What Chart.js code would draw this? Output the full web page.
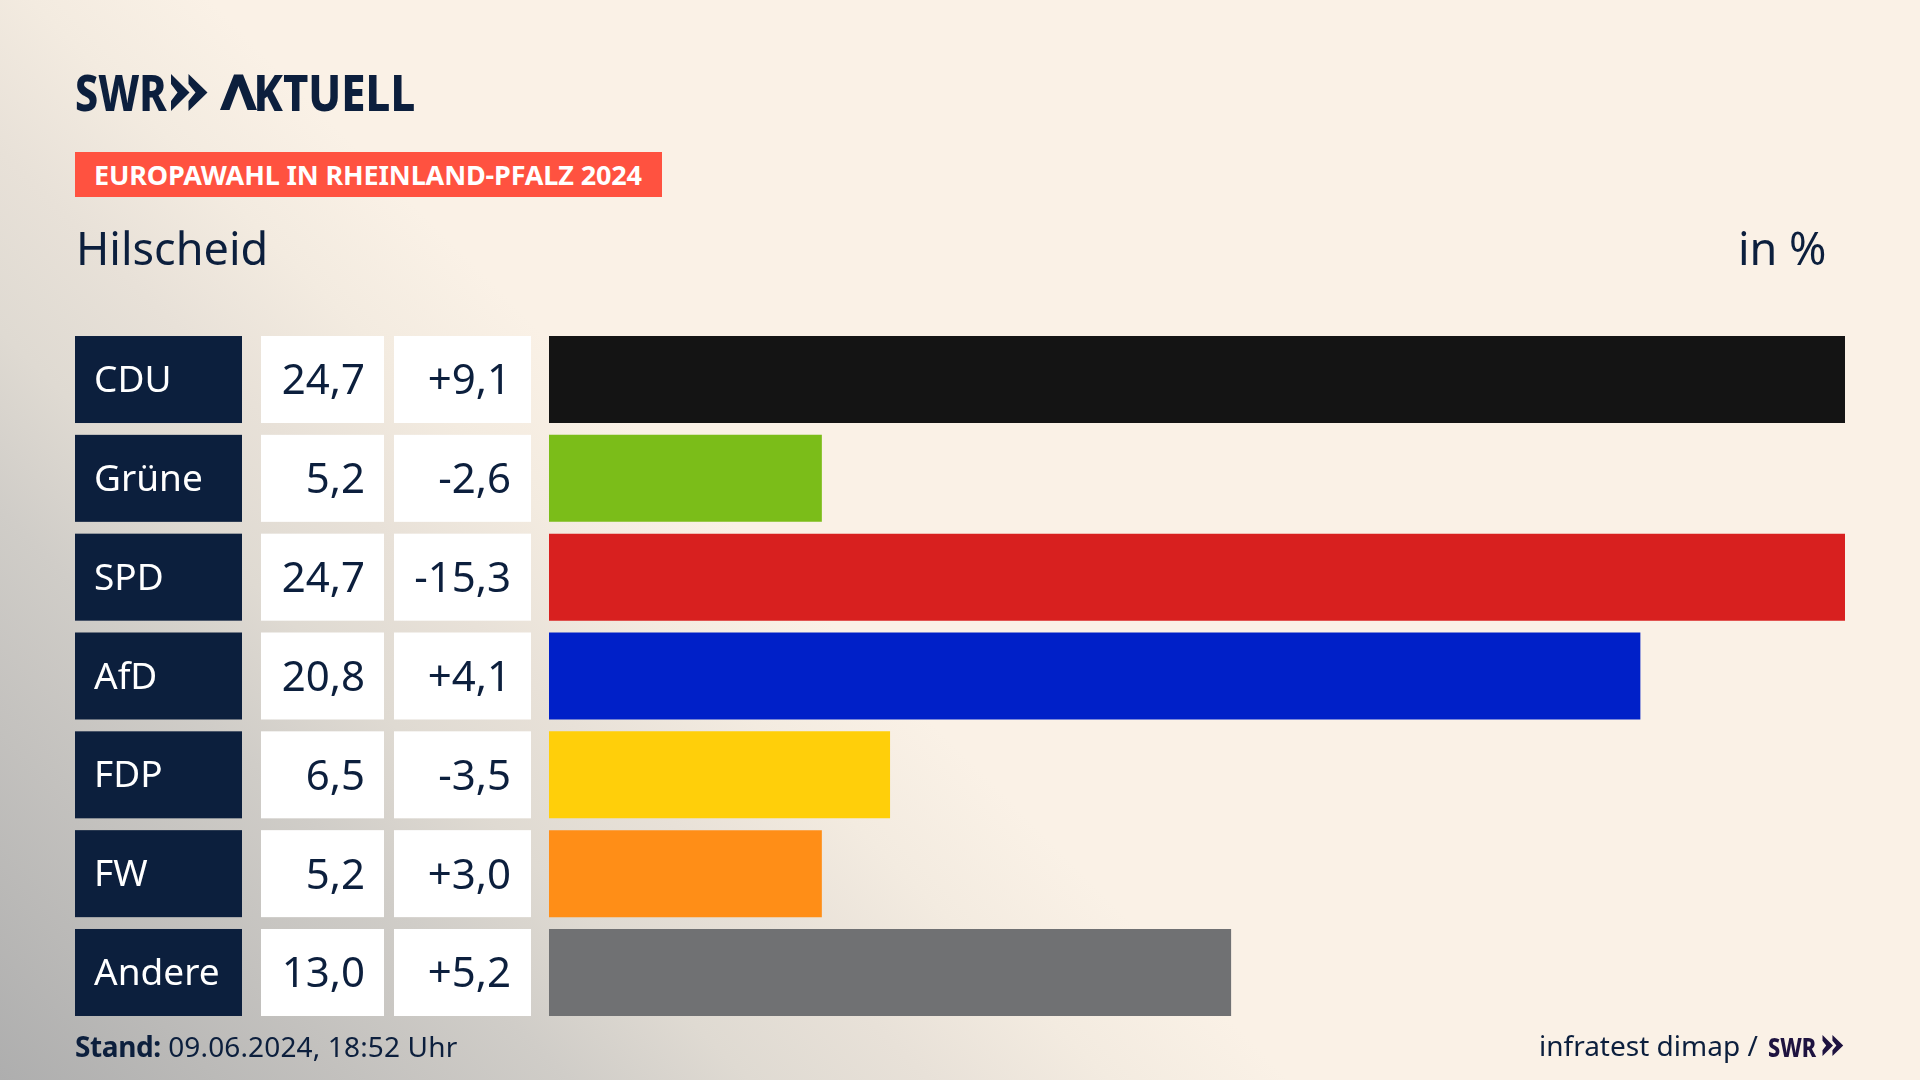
<!DOCTYPE html>
<html lang="de">
<head>
<meta charset="utf-8">
<script src="https://cdn.jsdelivr.net/npm/chart.js@4"></script>
<style>
html,body{margin:0;padding:0;width:1920px;height:1080px;overflow:hidden}
body{position:relative;font-family:"Noto Sans",sans-serif;color:#0c1f3d;
background:linear-gradient(225deg,#faf1e6 0,#faf1e6 57%,#f3ebe0 63%,#e8e1d8 69%,#dfdad2 75%,#d0cdc8 81%,#aeaeae 100%);}
canvas{position:absolute;left:0;top:0}
.t{position:absolute;white-space:nowrap;line-height:1;transform-origin:0 50%}
</style>
</head>
<body>
<canvas id="c" width="1920" height="1080"></canvas>
<div class="t" style="left:75px;top:68px;font-size:49px;font-weight:800;transform:scaleX(.84)">SWR</div>
<svg style="position:absolute;left:171px;top:74px" width="37" height="37" viewBox="0 0 37 37"><path d="M0 0 L18.5 18.5 L0 37 L0 27 L6.5 18.5 L0 10Z M17.5 0 L36.5 18.5 L17.5 37 L17.5 27 L24.5 18.5 L17.5 10Z" fill="#0c1f3d"/></svg>
<div class="t" style="left:219px;top:68px;font-size:49px;font-weight:800;transform:scaleX(.89)"><span style="color:transparent;padding-right:4px">A</span>KTUELL</div>
<svg style="position:absolute;left:219px;top:74px" width="42" height="38" viewBox="219 74 42 38"><path d="M220 110 L234 74.5 L243 74.5 L257 110 L247.5 110 L238.5 86 L229.5 110Z" fill="#0c1f3d"/></svg>
<div style="position:absolute;left:75px;top:152px;width:587px;height:45px;background:#ff5240"></div>
<div class="t" style="left:94px;top:161px;font-size:27px;font-weight:700;color:#fff;letter-spacing:-.15px">EUROPAWAHL IN RHEINLAND-PFALZ 2024</div>
<div class="t" style="left:76px;top:225px;font-size:45px">Hilscheid</div>
<div class="t" style="left:1738px;top:225px;font-size:45px">in %</div>
<div class="t" style="left:75px;top:1032px;font-size:28px;letter-spacing:.15px"><b style="letter-spacing:-.4px">Stand:</b> 09.06.2024, 18:52 Uhr</div>
<div class="t" style="left:1539px;top:1031px;font-size:28px">infratest dimap /</div>
<div class="t" style="left:1768px;top:1033px;font-size:27px;font-weight:800;color:#1e1340;transform:scaleX(.8)">SWR</div>
<svg style="position:absolute;left:1822px;top:1035px" width="22" height="21" viewBox="0 0 37 37"><path d="M0 0 L18.5 18.5 L0 37 L0 27 L6.5 18.5 L0 10Z M17.5 0 L36.5 18.5 L17.5 37 L17.5 27 L24.5 18.5 L17.5 10Z" fill="#1e1340"/></svg>
<script>
const parties = ["CDU","Grüne","SPD","AfD","FDP","FW","Andere"];
const shares = [24.7,5.2,24.7,20.8,6.5,5.2,13.0];
const changes = [9.1,-2.6,-15.3,4.1,-3.5,3.0,5.2];
const barColors = ["#141414","#7bbd19","#d8201f","#0020c8","#ffcf0a","#ff8e17","#707173"];
const de = (v)=>Math.abs(v).toFixed(1).replace(".",",");
const tiles = {
  id:"tiles",
  beforeDraw(chart){
    const {ctx,scales:{y}}=chart;
    ctx.save();
    parties.forEach((p,i)=>{
      const cy=y.getPixelForTick(i), h=87, top=cy-h/2;
      ctx.fillStyle="#0c1f3d"; ctx.fillRect(75,top,167,h);
      ctx.fillStyle="#fff"; ctx.fillRect(261,top,123,h); ctx.fillRect(394,top,137,h);
      ctx.fillStyle="#0c1f3d"; ctx.font='42px "Noto Sans"'; ctx.textAlign="right"; ctx.textBaseline="middle";
      ctx.fillText(de(shares[i]),365,cy+3);
      ctx.fillText((changes[i]>=0?"+":"-")+de(changes[i]),511,cy+3);
    });
    ctx.restore();
  }
};
new Chart(document.getElementById("c"),{
  type:"bar",
  data:{labels:parties,datasets:[{data:shares,backgroundColor:barColors,borderWidth:0,categoryPercentage:87/98.83,barPercentage:1}]},
  options:{
    indexAxis:"y",responsive:false,animation:false,devicePixelRatio:1,
    layout:{padding:{left:94,right:75,top:330.1,bottom:58.1}},
    plugins:{legend:{display:false},tooltip:{enabled:false},title:{display:false}},
    scales:{
      x:{display:false,min:0,max:24.7},
      y:{grid:{display:false},border:{display:false},
         afterFit(s){s.width=455;},
         ticks:{crossAlign:"far",color:"#fff",padding:0,labelOffset:2,font:{family:"Noto Sans",size:37}}}
    }
  },
  plugins:[tiles]
});
</script>
</body>
</html>
